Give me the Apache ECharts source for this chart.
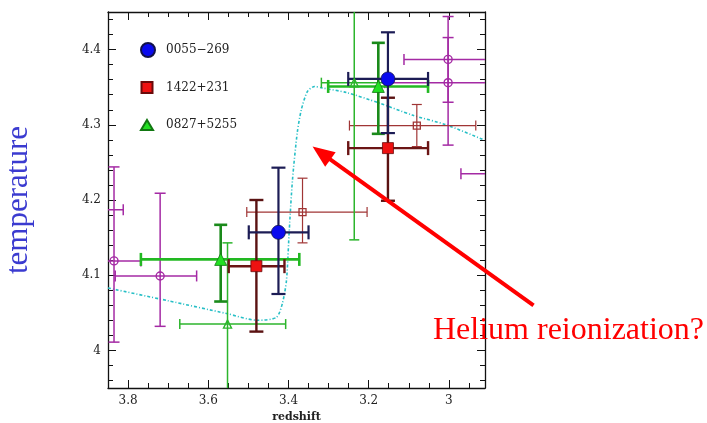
<!DOCTYPE html>
<html><head><meta charset="utf-8">
<script src="https://cdn.jsdelivr.net/npm/echarts@6/dist/echarts.min.js"></script>
<style>html,body{margin:0;padding:0;background:#fff}#c{width:707px;height:423px}</style>
</head><body><div id="c"></div>
<script>
// ---- tick labels ----
const xMajorTicks = [3, 3.2, 3.4, 3.6, 3.8];
const xMinorTicks = [2.95, 3.05, 3.1, 3.15, 3.25, 3.3, 3.35, 3.45, 3.5, 3.55, 3.65, 3.7, 3.75];
const yMajorTicks = [4, 4.1, 4.2, 4.3, 4.4];
const yMinorTicks = [3.96, 3.98, 4.02, 4.04, 4.06, 4.08, 4.12, 4.14, 4.16, 4.18, 4.22, 4.24, 4.26, 4.28,
                     4.32, 4.34, 4.36, 4.38, 4.42, 4.44];
// ---- model curve ----
const modelZ = [3.85, 3.70, 3.554, 3.477, 3.43, 3.415, 3.405, 3.398, 3.390, 3.378, 3.368, 3.353, 3.335, 3.316, 3.256, 3.174, 3.092, 3.007, 2.913];
const modelT = [4.083, 4.066, 4.049, 4.040, 4.044, 4.063, 4.093, 4.160, 4.227, 4.290, 4.320, 4.344, 4.351, 4.349, 4.343, 4.329, 4.313, 4.300, 4.280];
// ---- measurements: [z, T, zLow, zHigh, TLow, THigh] ----
const q0055 = [[3.425, 4.157, 3.350, 3.499, 4.075, 4.243],
               [3.152, 4.361, 3.052, 3.251, 4.289, 4.423]];
const q1422 = [[3.480, 4.112, 3.410, 3.549, 4.025, 4.200],
               [3.152, 4.269, 3.052, 3.251, 4.199, 4.336]];
const q0827 = [[3.569, 4.121, 3.373, 3.768, 4.065, 4.167],
               [3.176, 4.351, 3.052, 3.301, 4.288, 4.409]];
const openCircles = [[3.88, 4.187, 3.812, 3.95, 4.10, 4.28],
                     [3.835, 4.119, 3.768, 3.90, 4.011, 4.244],
                     [3.720, 4.099, 3.629, 3.832, 4.032, 4.209],
                     [3.002, 4.387, 2.85, 3.112, 4.33, 4.444],
                     [3.002, 4.356, 2.85, 3.16, 4.273, 4.416],
                     [2.86, 4.235, 2.75, 2.970, 4.15, 4.32]];
const openSquares = [[3.365, 4.184, 3.204, 3.504, 4.143, 4.229],
                     [3.080, 4.299, 2.933, 3.248, 4.271, 4.327]];
const openTriangles = [[3.552, 4.035, 3.407, 3.671, 3.90, 4.143],
                       [3.236, 4.356, 3.154, 3.318, 4.147, 4.565]];
const legendNames = ['0055\u2212269', '1422+231', '0827+5255'];
const arrowTip = [3.340, 4.271];
const arrowTail = [2.789, 4.060];

const chart = echarts.init(document.getElementById('c'), null, {renderer: 'canvas'});
const SERIF = 'DejaVu Serif';

function errRender(st) {
  return function (params, api) {
    const x = api.value(0), y = api.value(1);
    const a = api.coord([api.value(2), y]), b = api.coord([api.value(3), y]);
    const c = api.coord([x, api.value(4)]), d = api.coord([x, api.value(5)]);
    const h = st.cap / 2;
    const hs = {stroke: st.h, lineWidth: st.w}, vs = {stroke: st.v, lineWidth: st.w};
    return {type: 'group', children: [
      {type: 'line', shape: {x1: a[0], y1: a[1], x2: b[0], y2: b[1]}, style: hs},
      {type: 'line', shape: {x1: a[0], y1: a[1] - h, x2: a[0], y2: a[1] + h}, style: hs},
      {type: 'line', shape: {x1: b[0], y1: b[1] - h, x2: b[0], y2: b[1] + h}, style: hs},
      {type: 'line', shape: {x1: c[0], y1: c[1], x2: d[0], y2: d[1]}, style: vs},
      {type: 'line', shape: {x1: c[0] - h, y1: c[1], x2: c[0] + h, y2: c[1]}, style: vs},
      {type: 'line', shape: {x1: d[0] - h, y1: d[1], x2: d[0] + h, y2: d[1]}, style: vs}
    ]};
  };
}
function errSeries(data, st) {
  return {type: 'custom', data: data, renderItem: errRender(st), clip: true, z: 2, silent: true};
}
function markSeries(name, data, symbol, size, color, border, bw) {
  return {type: 'scatter', name: name, data: data.map(r => [r[0], r[1]]), symbol: symbol, symbolSize: size,
    itemStyle: {color: color, borderColor: border, borderWidth: bw, opacity: 1}, clip: true, z: 4, silent: true};
}

const lineColor = '#111';
function xAx(pos, major, showLine, showLabel) {
  return {type: 'value', inverse: true, min: 2.91, max: 3.85, position: pos,
    axisLine: {show: showLine, onZero: false, lineStyle: {color: lineColor, width: 1.3}},
    axisTick: {show: true, inside: true, length: major ? 8 : 5, customValues: major ? xMajorTicks : xMinorTicks,
               lineStyle: {color: lineColor, width: 1}},
    axisLabel: {show: showLabel, customValues: xMajorTicks, margin: 7, color: '#222', fontFamily: SERIF, fontSize: 12},
    splitLine: {show: false}};
}
function yAx(pos, major, showLine, showLabel) {
  return {type: 'value', min: 3.95, max: 4.45, position: pos,
    axisLine: {show: showLine, onZero: false, lineStyle: {color: lineColor, width: 1.3}},
    axisTick: {show: true, inside: true, length: major ? 8 : 5, customValues: major ? yMajorTicks : yMinorTicks,
               lineStyle: {color: lineColor, width: 1}},
    axisLabel: {show: showLabel, customValues: yMajorTicks, margin: 7, color: '#222', fontFamily: SERIF, fontSize: 12},
    splitLine: {show: false}};
}
const xMain = xAx('bottom', true, true, true);
xMain.name = 'redshift';
xMain.nameLocation = 'middle';
xMain.nameGap = 20;
xMain.nameTextStyle = {fontFamily: SERIF, fontSize: 11, fontWeight: 'bold', color: '#222'};
const yMain = yAx('left', true, true, true);
yMain.name = 'temperature';
yMain.nameLocation = 'middle';
yMain.nameRotate = 90;
yMain.nameGap = 74;
yMain.nameTextStyle = {fontFamily: 'Liberation Serif', fontSize: 31, color: '#3b3bd0'};

function leg(name, left, top, w, h, pad) {
  return {data: [name], left: left, top: top, orient: 'vertical', padding: 0, itemWidth: w, itemHeight: h,
    selectedMode: false, textStyle: {fontFamily: SERIF, fontSize: 12, color: '#222', padding: [0, 0, 0, pad]}};
}

chart.setOption({
  animation: false,
  backgroundColor: '#fff',
  grid: {left: 108, right: 222, top: 12, bottom: 35, containLabel: false, outerBoundsMode: 'none'},
  xAxis: [xMain, xAx('bottom', false, false, false), xAx('top', true, true, false), xAx('top', false, false, false)],
  yAxis: [yMain, yAx('left', false, false, false), yAx('right', true, true, false), yAx('right', false, false, false)],
  legend: [leg(legendNames[0], 140, 42, 14, 14, 6), leg(legendNames[1], 140.5, 81, 11, 11, 8.5), leg(legendNames[2], 140, 119, 12, 10, 8)],
  series: [
    {type: 'line', data: modelZ.map((z, i) => [z, modelT[i]]), showSymbol: false, symbol: 'none', smooth: 0.25,
     lineStyle: {color: '#27bfc6', width: 1.6, type: [3, 2, 1, 2]}, z: 1, clip: true, silent: true},
    errSeries(openCircles, {h: '#a42aa4', v: '#a42aa4', w: 1.5, cap: 11}),
    errSeries(openSquares, {h: '#a03535', v: '#a03535', w: 1.2, cap: 10}),
    errSeries(openTriangles, {h: '#2cb52c', v: '#2cb52c', w: 1.5, cap: 10}),
    errSeries(q0827, {h: '#22b822', v: '#1a8a1a', w: 2.6, cap: 13}),
    errSeries(q1422, {h: '#6b1515', v: '#5a1212', w: 2.4, cap: 14}),
    errSeries(q0055, {h: '#1c1c55', v: '#1c1c55', w: 2.2, cap: 14}),
    markSeries('open1', openCircles, 'circle', 8, 'rgba(255,255,255,0)', '#a42aa4', 1.4),
    markSeries('open2', openSquares, 'rect', 7, 'rgba(255,255,255,0)', '#a03535', 1.3),
    markSeries('open3', openTriangles, 'triangle', 8, 'rgba(255,255,255,0)', '#2cb52c', 1.4),
    markSeries(legendNames[2], q0827, 'triangle', 12, '#22e022', '#117711', 0.8),
    markSeries(legendNames[1], q1422, 'rect', 11, '#ee1111', '#6a0a0a', 0.8),
    markSeries(legendNames[0], q0055, 'circle', 14, '#0a0aee', '#12124a', 0.8)
  ]
});

// annotation arrow and text
const tip = chart.convertToPixel({xAxisIndex: 0, yAxisIndex: 0}, arrowTip);
const tail = chart.convertToPixel({xAxisIndex: 0, yAxisIndex: 0}, arrowTail);
const dx = tip[0] - tail[0], dy = tip[1] - tail[1];
const L = Math.sqrt(dx * dx + dy * dy), ux = dx / L, uy = dy / L;
const headLen = 22, headHalf = 9;
const bx = tip[0] - ux * headLen, by = tip[1] - uy * headLen;
chart.setOption({
  graphic: [
    {type: 'line', z: 10, shape: {x1: tail[0], y1: tail[1], x2: bx + ux * 2, y2: by + uy * 2},
     style: {stroke: '#ff0000', lineWidth: 4}},
    {type: 'polygon', z: 10, shape: {points: [[tip[0], tip[1]], [bx - uy * headHalf, by + ux * headHalf], [bx + uy * headHalf, by - ux * headHalf]]},
     style: {fill: '#ff0000'}},
    {type: 'text', z: 10, x: 433, y: 331,
     style: {text: 'Helium reionization?', fontFamily: 'Liberation Serif', fontSize: 32, fill: '#ff0000', align: 'left', verticalAlign: 'middle'}}
  ]
});
</script></body></html>
